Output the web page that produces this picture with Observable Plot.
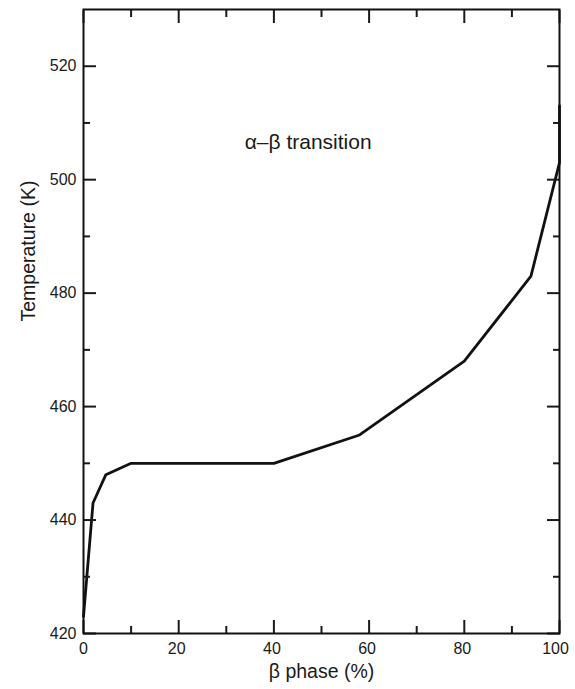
<!DOCTYPE html>
<html>
<head>
<meta charset="utf-8">
<script src="https://cdn.jsdelivr.net/npm/d3@7"></script>
<script src="https://cdn.jsdelivr.net/npm/@observablehq/plot@0.6"></script>
<style>
  body { margin: 0; background: #fff; }
  svg { font-family: "Liberation Sans", Arial, sans-serif; }
</style>
</head>
<body>
<div id="chart"></div>
<script>
const betaPhase = [0, 2, 4.7, 10, 40, 58, 80, 94, 100, 100];
const temperature = [423, 443, 448, 450, 450, 455, 468, 483, 503, 513];
const xMajor = [0, 20, 40, 60, 80, 100];
const xMinor = [10, 30, 50, 70, 90];
const yMajor = [420, 440, 460, 480, 500, 520];
const yMinor = [430, 450, 470, 490, 510];
const xLabel = "β phase (%)";
const yLabel = "Temperature (K)";
const annotation = [{x: 47.2, y: 506.6, text: "α–β transition"}];

const data = betaPhase.map((x, i) => ({x, y: temperature[i]}));
const xFirst = xMajor.slice(0, 1);
const xMid = xMajor.slice(1, -1);
const xLast = xMajor.slice(-1);

const chart = Plot.plot({
  width: 575,
  height: 689,
  marginLeft: 83,
  marginRight: 16,
  marginTop: 9,
  marginBottom: 56,
  style: {fontFamily: "Liberation Sans, Arial, sans-serif", fontSize: "16px", color: "#1a1a1a", background: "#fff"},
  x: {domain: [0, 100]},
  y: {domain: [420, 530]},
  marks: [
    Plot.line(data, {x: "x", y: "y", stroke: "#111", strokeWidth: 2.8}),
    // tick labels
    Plot.axisX(xFirst, {anchor: "bottom", tickSize: 0, tickPadding: 9, fontSize: 16, label: null}),
    Plot.axisX(xMid, {anchor: "bottom", tickSize: 0, tickPadding: 9, fontSize: 16, label: null, dx: -2}),
    Plot.axisX(xLast, {anchor: "bottom", tickSize: 0, tickPadding: 9, fontSize: 16, label: null, dx: -4}),
    Plot.axisY(yMajor, {anchor: "left", tickSize: 0, tickPadding: 7, fontSize: 16, label: null}),
    // inward ticks
    Plot.axisX(xMajor, {anchor: "bottom", tickSize: -13, text: null, label: null, strokeWidth: 2}),
    Plot.axisX(xMinor, {anchor: "bottom", tickSize: -7, text: null, label: null, strokeWidth: 2}),
    Plot.axisX(xMajor, {anchor: "top", tickSize: -13, text: null, label: null, strokeWidth: 2}),
    Plot.axisX(xMinor, {anchor: "top", tickSize: -7, text: null, label: null, strokeWidth: 2}),
    Plot.axisY(yMajor, {anchor: "left", tickSize: -13, text: null, label: null, strokeWidth: 2}),
    Plot.axisY(yMinor, {anchor: "left", tickSize: -7, text: null, label: null, strokeWidth: 2}),
    Plot.axisY(yMajor, {anchor: "right", tickSize: -13, text: null, label: null, strokeWidth: 2}),
    Plot.axisY(yMinor, {anchor: "right", tickSize: -7, text: null, label: null, strokeWidth: 2}),
    Plot.frame({stroke: "#111", strokeWidth: 2}),
    // axis titles
    Plot.text([xLabel], {frameAnchor: "bottom", dy: 44, fontSize: 19.5, fill: "#1a1a1a"}),
    Plot.text([yLabel], {frameAnchor: "left", dx: -54.5, rotate: -90, fontSize: 19.5, fill: "#1a1a1a"}),
    Plot.text(annotation, {x: "x", y: "y", text: "text", fontSize: 21, fill: "#1a1a1a"})
  ]
});
document.getElementById("chart").appendChild(chart);
</script>
</body>
</html>
